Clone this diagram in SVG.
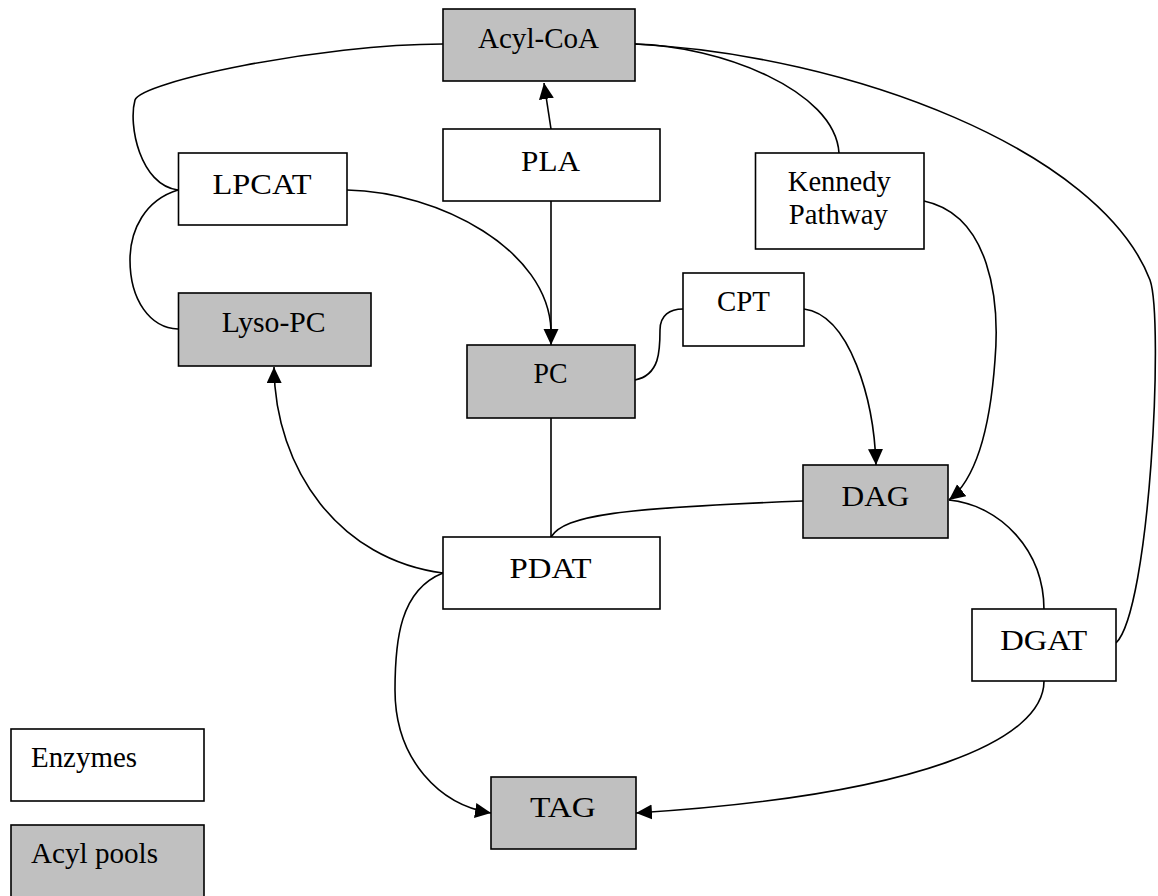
<svg xmlns="http://www.w3.org/2000/svg" width="1158" height="896" viewBox="0 0 1158 896">
<style>
.box{stroke:#000;stroke-width:1.6;fill:#fff}
.pool{fill:#c0c0c0}
.lbl{font-family:"Liberation Serif","Times New Roman",serif;font-size:30px;fill:#000;text-anchor:middle}
.leg{text-anchor:start}
.c{fill:none;stroke:#000;stroke-width:1.6}
</style>
<defs>
<marker id="ah" markerUnits="userSpaceOnUse" markerWidth="17" markerHeight="16" refX="16" refY="7.5" orient="auto" viewBox="0 0 17 16">
<path d="M0,0 L16,7.5 L0,15 z" fill="#000"/>
</marker>
</defs>
<rect width="1158" height="896" fill="#fff"/>
<g id="connectors">
<path class="c" d="M443,44 C320,44 140,82 135,100 C128,125 140,185 178,190"/>
<path class="c" d="M178,190 C145,200 130,230 130,260 C130,300 150,328 178,329"/>
<path class="c" d="M347,190 C440,192 548,250 551,330"/>
<path class="c" d="M551,201 L551,345" marker-end="url(#ah)"/>
<path class="c" d="M551,129 L544,83" marker-end="url(#ah)"/>
<path class="c" d="M551,418 L551,537"/>
<path class="c" d="M551,537 C565,515 620,508 803,501"/>
<path class="c" d="M443,573 C340,560 275,470 274,367" marker-end="url(#ah)"/>
<path class="c" d="M443,573 C400,590 395,640 395,690 C395,760 440,805 491,813" marker-end="url(#ah)"/>
<path class="c" d="M1044,681 C1044,740 920,795 636,813" marker-end="url(#ah)"/>
<path class="c" d="M1044,610 C1044,550 1000,505 949,500"/>
<path class="c" d="M924,201 C990,215 1000,300 995,360 C990,430 975,480 949,500" marker-end="url(#ah)"/>
<path class="c" d="M635,44 C720,46 835,90 839,153"/>
<path class="c" d="M635,44 C850,55 1100,150 1150,280 C1164,320 1150,610 1116,643"/>
<path class="c" d="M635,380 C660,375 660,350 660,330 C660,315 670,309 683,309"/>
<path class="c" d="M804,309 C850,315 874,400 876,465" marker-end="url(#ah)"/>
</g>
<g id="acylcoa"><rect class="box pool" x="443" y="9" width="192" height="72"/><text class="lbl" x="538.5" y="48" textLength="121" lengthAdjust="spacingAndGlyphs">Acyl-CoA</text></g>
<g id="pla"><rect class="box" x="443" y="129" width="217" height="72"/><text class="lbl" x="550.6" y="170.5" textLength="59" lengthAdjust="spacingAndGlyphs">PLA</text></g>
<g id="lpcat"><rect class="box" x="178.5" y="153" width="168.5" height="72"/><text class="lbl" x="262" y="194" textLength="99" lengthAdjust="spacingAndGlyphs">LPCAT</text></g>
<g id="kennedy"><rect class="box" x="755.5" y="153" width="168.5" height="96"/><text class="lbl" x="839.3" y="191" textLength="103" lengthAdjust="spacingAndGlyphs">Kennedy</text><text class="lbl" x="838.3" y="223.5" textLength="99" lengthAdjust="spacingAndGlyphs">Pathway</text></g>
<g id="lysopc"><rect class="box pool" x="178.5" y="293" width="192.5" height="73"/><text class="lbl" x="273.7" y="332" textLength="104" lengthAdjust="spacingAndGlyphs">Lyso-PC</text></g>
<g id="cpt"><rect class="box" x="683" y="273" width="121" height="73"/><text class="lbl" x="743.4" y="310.5" textLength="53" lengthAdjust="spacingAndGlyphs">CPT</text></g>
<g id="pc"><rect class="box pool" x="467" y="345" width="168" height="73"/><text class="lbl" x="550.6" y="383" textLength="34" lengthAdjust="spacingAndGlyphs">PC</text></g>
<g id="dag"><rect class="box pool" x="803" y="465" width="145" height="73"/><text class="lbl" x="875.5" y="506" textLength="68" lengthAdjust="spacingAndGlyphs">DAG</text></g>
<g id="pdat"><rect class="box" x="443" y="537" width="217" height="72"/><text class="lbl" x="550.6" y="578" textLength="82" lengthAdjust="spacingAndGlyphs">PDAT</text></g>
<g id="dgat"><rect class="box" x="972" y="609" width="144" height="72"/><text class="lbl" x="1043.7" y="650" textLength="87" lengthAdjust="spacingAndGlyphs">DGAT</text></g>
<g id="tag"><rect class="box pool" x="491" y="777" width="145" height="72"/><text class="lbl" x="563" y="817" textLength="66" lengthAdjust="spacingAndGlyphs">TAG</text></g>
<g id="legend-enzymes"><rect class="box" x="11" y="729" width="193" height="72"/><text class="lbl leg" x="31" y="767" textLength="106" lengthAdjust="spacingAndGlyphs">Enzymes</text></g>
<g id="legend-pools"><rect class="box pool" x="11" y="825" width="193" height="74"/><text class="lbl leg" x="31" y="863" textLength="127" lengthAdjust="spacingAndGlyphs">Acyl pools</text></g>
</svg>
